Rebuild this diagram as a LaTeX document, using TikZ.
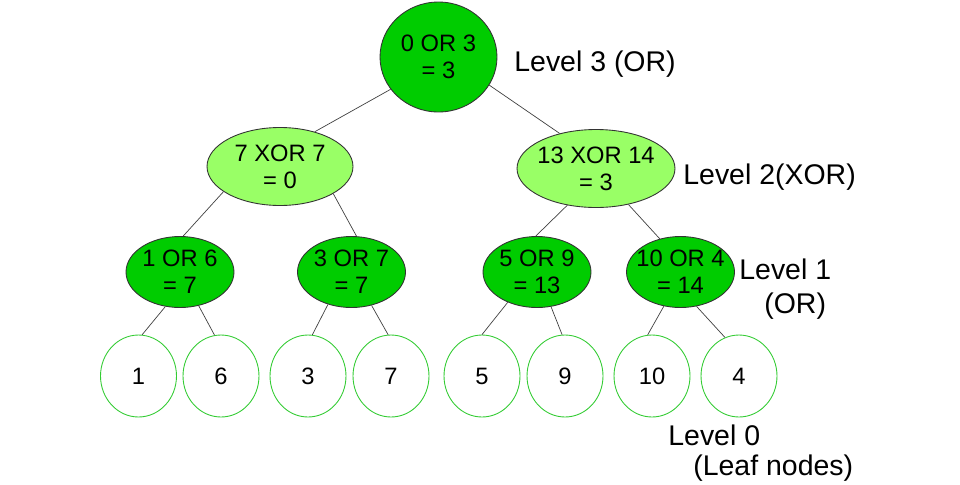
\documentclass[tikz,border=0pt]{standalone}
\usepackage{fontspec}
\setmainfont{Liberation Sans}
\usetikzlibrary{shapes.geometric}
\definecolor{cOR}{HTML}{00CC00}
\definecolor{cXOR}{HTML}{99FF66}
\definecolor{cLEAF}{HTML}{33CC33}
\tikzset{
  opnode/.style={
    ellipse, draw=black!80, line width=0.5pt,
    inner sep=0pt,
    font=\fontsize{13.5}{15.4}\selectfont
  },
  ornode/.style={
    opnode, fill=cOR,
    minimum width=2.16cm, minimum height=1.42cm
  },
  xornode/.style={
    opnode, fill=cXOR,
    minimum height=1.56cm
  },
  leafnode/.style={
    ellipse, draw=cLEAF, fill=white, line width=0.5pt,
    minimum width=1.52cm, minimum height=1.64cm,
    font=\fontsize{13.5}{15.4}\selectfont
  },
  treeedge/.style={
    draw=black!75, line width=0.4pt
  },
  lvllabel/.style={
    anchor=base west, inner sep=0pt,
    font=\fontsize{16.2}{19}\selectfont
  }
}
\newcommand{\optext}[2]{%
  \raisebox{2.9pt}[0pt][0pt]{\makebox[0pt]{%
    \begin{tabular}[t]{@{}c@{}}#1\\#2\end{tabular}}}%
}

\begin{document}
\begin{tikzpicture}[x=0.02cm, y=-0.02cm]
  \useasboundingbox (0,0) rectangle (960,484);

  % level 3
  \node[ornode, minimum width=2.34cm, minimum height=2.2cm] (root) at (438.5,57) {\optext{0 OR 3}{= 3}};

  % level 2
  \node[xornode, minimum width=2.92cm] (xorl) at (280,166.5) {\optext{7 XOR 7}{= 0}};
  \node[xornode, minimum width=3.16cm] (xorr) at (596,168.5) {\optext{13 XOR 14}{= 3}};

  % level 1
  \node[ornode] (orA) at (180,272) {\optext{1 OR 6}{= 7}};
  \node[ornode] (orB) at (351.5,272) {\optext{3 OR 7}{= 7}};
  \node[ornode] (orC) at (537,272) {\optext{5 OR 9}{= 13}};
  \node[ornode] (orD) at (680.5,272) {\optext{10 OR 4}{= 14}};

  % level 0
  \node[leafnode] (leafA) at (138.5,376) {1};
  \node[leafnode] (leafB) at (221,376) {6};
  \node[leafnode] (leafC) at (308,376) {3};
  \node[leafnode] (leafD) at (391,376) {7};
  \node[leafnode] (leafE) at (482,376) {5};
  \node[leafnode] (leafF) at (565,376) {9};
  \node[leafnode] (leafG) at (652,376) {10};
  \node[leafnode] (leafH) at (739,376) {4};

  % edges
  \draw[treeedge] (root.214) -- (xorl.45);
  \draw[treeedge] (root.331) -- (xorr.136);
  \draw[treeedge] (xorl.204) -- (orA.85);
  \draw[treeedge] (xorl.333) -- (orB.82);
  \draw[treeedge] (xorr.232) -- (orC.92);
  \draw[treeedge] (xorr.312) -- (orD.122);
  \draw[treeedge] (orA.247) -- (leafA.85);
  \draw[treeedge] (orA.299) -- (leafB.99);
  \draw[treeedge] (orB.234) -- (leafC.84);
  \draw[treeedge] (orB.301) -- (leafD.94);
  \draw[treeedge] (orC.226) -- (leafE.90);
  \draw[treeedge] (orC.292) -- (leafF.94);
  \draw[treeedge] (orD.244) -- (leafG.96);
  \draw[treeedge] (orD.295) -- (leafH.110);

  % level labels
  \node[lvllabel] (lvlthree) at (514,71) {Level 3 (OR)};
  \node[lvllabel] (lvltwo) at (683,184) {Level 2(XOR)};
  \node[lvllabel] (lvlone) at (739,279) {Level 1};
  \node[lvllabel] (lvloneb) at (764,313) {(OR)};
  \node[lvllabel] (lvlzero) at (668,445) {Level 0};
  \node[lvllabel] (lvlzerob) at (693,475) {(Leaf nodes)};
\end{tikzpicture}
\end{document}
